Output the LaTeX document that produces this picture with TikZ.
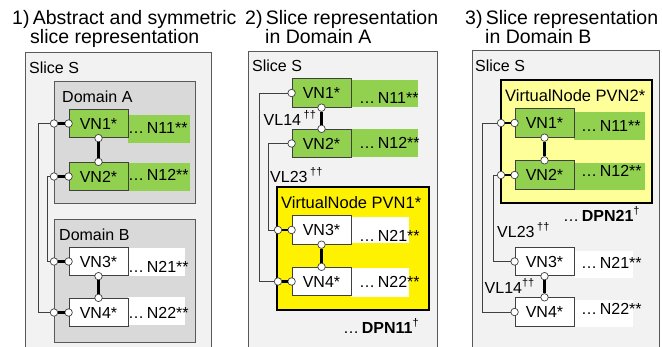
\documentclass[tikz,border=0pt]{standalone}
\usepackage{fontspec}
\setmainfont{Liberation Sans}
\newcommand\fsz[1]{\fontsize{#1}{#1}\selectfont}
\newcommand\upmark[1]{\raisebox{0.42em}{\fsz{11}#1}}
\definecolor{slicebg}{HTML}{F2F2F2}
\definecolor{domainbg}{HTML}{D9D9D9}
\definecolor{vngreen}{HTML}{92D050}
\definecolor{lineclr}{HTML}{404040}
\definecolor{boxborder}{HTML}{595959}
\definecolor{paleyellow}{HTML}{FFFF99}
\tikzset{
  slicebox/.style={draw=boxborder, fill=slicebg, line width=0.9pt},
  domainbox/.style={draw=boxborder, fill=domainbg, line width=0.9pt},
  pvnbox/.style={draw=black, line width=2.2pt},
  vnbox/.style={draw=lineclr, line width=0.8pt, minimum width=59pt, minimum height=28.5pt, inner sep=0pt, font=\fsz{16}},
  port/.style={circle, draw=lineclr, fill=white, line width=0.7pt, minimum size=7.5pt, inner sep=0pt},
  link/.style={draw=lineclr, line width=0.8pt},
  vlink/.style={draw=black, line width=2.4pt},
  lbl/.style={inner sep=0pt, anchor=base west, font=\fsz{16}},
  title/.style={inner sep=0pt, anchor=base west, font=\fsz{19.5}},
}
\begin{document}
\begin{tikzpicture}[x=1pt,y=-1pt]
\useasboundingbox (0,0) rectangle (662,346);
\clip (0,0) rectangle (662,346);
% ---------------- titles
\node[title] (t1a) at (12,24) {1)\,Abstract and symmetric};
\node[title] (t1b) at (30,43.5) {slice representation};
\node[title] (t2a) at (245,24) {2)\,Slice representation};
\node[title] (t2b) at (265,43.5) {in Domain A};
\node[title] (t3a) at (465,24) {3)\,Slice representation};
\node[title] (t3b) at (485,43.5) {in Domain B};

% ================= Panel 1
\draw[slicebox] (25,52) rectangle (211,352);
\node[lbl] (s1) at (29,73) {Slice S};
\draw[domainbox] (54,81) rectangle (195,203);
\node[lbl] (dA) at (62,102) {Domain A};
\draw[domainbox] (54,219) rectangle (195,342);
\node[lbl] (dB) at (59,240) {Domain B};
\fill[vngreen] (128,115) rectangle (190,143);
\fill[vngreen] (128,163) rectangle (190,191);
\fill[white] (128,248) rectangle (185,276);
\fill[white] (128,297) rectangle (185,325);
\node[vnbox, fill=vngreen] (a1) at (98.5,123.5) {VN1*};
\node[vnbox, fill=vngreen] (a2) at (98.5,176.5) {VN2*};
\node[vnbox, fill=white] (a3) at (98.5,261.5) {VN3*};
\node[vnbox, fill=white] (a4) at (98.5,312.5) {VN4*};
\node[lbl] (an1) at (128,133) {…\,N11**};
\node[lbl] (an2) at (128,180) {…\,N12**};
\node[lbl] (an3) at (128,272) {…\,N21**};
\node[lbl] (an4) at (128,318) {…\,N22**};
\node[port] (a1l) at (a1.west) {};
\node[port] (a2l) at (a2.west) {};
\node[port] (a3l) at (a3.west) {};
\node[port] (a4l) at (a4.west) {};
\node[port] (a1o) at (54,123.5) {};
\node[port] (a2o) at (54,176.5) {};
\node[port] (a3o) at (54,261.5) {};
\node[port] (a4o) at (54,312.5) {};
\node[port] (a1b) at (a1.south) {};
\node[port] (a2t) at (a2.north) {};
\node[port] (a3b) at (a3.south) {};
\node[port] (a4t) at (a4.north) {};
\draw[vlink] (a1o) -- (a1l);
\draw[vlink] (a2o) -- (a2l);
\draw[vlink] (a3o) -- (a3l);
\draw[vlink] (a4o) -- (a4l);
\draw[vlink] (a1b) -- (a2t);
\draw[vlink] (a3b) -- (a4t);
\coordinate (ac1) at (38,123.5);
\coordinate (ac2) at (47,176.5);
\draw[link] (a1o) -- (ac1) |- (a4o);
\draw[link] (a2o) -- (ac2) |- (a3o);

% ================= Panel 2
\draw[slicebox] (248,51) rectangle (437,352);
\node[lbl] (s2) at (252,71) {Slice S};
\fill[vngreen] (351,80) rectangle (418,107);
\fill[vngreen] (351,129) rectangle (418,157);
\draw[pvnbox, fill=yellow] (277,187) rectangle (429,310);
\node[lbl, font=\fsz{16.5}] (pvn1) at (281,208) {VirtualNode PVN1*};
\fill[white] (351,217) rectangle (409,243);
\fill[white] (351,268) rectangle (409,297);
\node[vnbox, fill=vngreen] (b1) at (321.5,93) {VN1*};
\node[vnbox, fill=vngreen] (b2) at (321.5,143.5) {VN2*};
\node[vnbox, fill=white] (b3) at (321.5,230) {VN3*};
\node[vnbox, fill=white] (b4) at (321.5,281.5) {VN4*};
\node[lbl] (bn1) at (359,103) {…\,N11**};
\node[lbl] (bn2) at (359,148) {…\,N12**};
\node[lbl] (bn3) at (359,241) {…\,N21**};
\node[lbl] (bn4) at (359,287) {…\,N22**};
\node[port] (b1l) at (b1.west) {};
\node[port] (b2l) at (b2.west) {};
\node[port] (b3l) at (b3.west) {};
\node[port] (b4l) at (b4.west) {};
\node[port] (b3o) at (278,230) {};
\node[port] (b4o) at (278,281.5) {};
\node[port] (b1b) at (b1.south) {};
\node[port] (b2t) at (b2.north) {};
\node[port] (b3b) at (b3.south) {};
\node[port] (b4t) at (b4.north) {};
\draw[vlink] (b3o) -- (b3l);
\draw[vlink] (b4o) -- (b4l);
\draw[vlink] (b1b) -- (b2t);
\draw[vlink] (b3b) -- (b4t);
\coordinate (bc1) at (259,93);
\coordinate (bc2) at (268,143.5);
\draw[link] (b1l) -- (bc1) |- (b4o);
\draw[link] (b2l) -- (bc2) |- (b3o);
\node[lbl, fill=slicebg, inner sep=0.5pt] (vl14b) at (263,125) {VL14\,\upmark{††}};
\node[lbl] (vl23b) at (270,182) {VL23\,\upmark{††}};
\node[lbl] (dpn11) at (343,333) {…\,\textbf{DPN11}\upmark{†}};

% ================= Panel 3
\draw[slicebox] (472,50) rectangle (659,352);
\node[lbl] (s3) at (475,71) {Slice S};
\draw[pvnbox, fill=paleyellow] (501,80) rectangle (652,203);
\node[lbl, font=\fsz{16.5}] (pvn2) at (505,101) {VirtualNode PVN2*};
\fill[vngreen] (574,112) rectangle (645,140);
\fill[vngreen] (574,163) rectangle (645,190);
\fill[white] (574,251) rectangle (633,278);
\fill[white] (574,300) rectangle (633,327);
\node[vnbox, fill=vngreen] (c1) at (544.5,123) {VN1*};
\node[vnbox, fill=vngreen] (c2) at (544.5,175) {VN2*};
\node[vnbox, fill=white] (c3) at (544.5,261.5) {VN3*};
\node[vnbox, fill=white] (c4) at (544.5,312) {VN4*};
\node[lbl] (cn1) at (581,131) {…\,N11**};
\node[lbl] (cn2) at (581,176) {…\,N12**};
\node[lbl] (cn3) at (581,268) {…\,N21**};
\node[lbl] (cn4) at (581,314) {…\,N22**};
\node[port] (c1l) at (c1.west) {};
\node[port] (c2l) at (c2.west) {};
\node[port] (c3l) at (c3.west) {};
\node[port] (c4l) at (c4.west) {};
\node[port] (c1o) at (501,123) {};
\node[port] (c2o) at (501,175) {};
\node[port] (c1b) at (c1.south) {};
\node[port] (c2t) at (c2.north) {};
\node[port] (c3b) at (c3.south) {};
\node[port] (c4t) at (c4.north) {};
\draw[vlink] (c1o) -- (c1l);
\draw[vlink] (c2o) -- (c2l);
\draw[vlink] (c1b) -- (c2t);
\draw[vlink] (c3b) -- (c4t);
\coordinate (cc1) at (482,123);
\coordinate (cc2) at (493,175);
\draw[link] (c1o) -- (cc1) |- (c4l);
\draw[link] (c2o) -- (cc2) |- (c3l);
\node[lbl] (dpn21) at (563,221) {…\,\textbf{DPN21}\upmark{†}};
\node[lbl] (vl23c) at (497,237) {VL23\,\upmark{††}};
\node[lbl, fill=slicebg, inner sep=0.5pt] (vl14c) at (484,293) {VL14\upmark{††}};
\end{tikzpicture}
\end{document}
